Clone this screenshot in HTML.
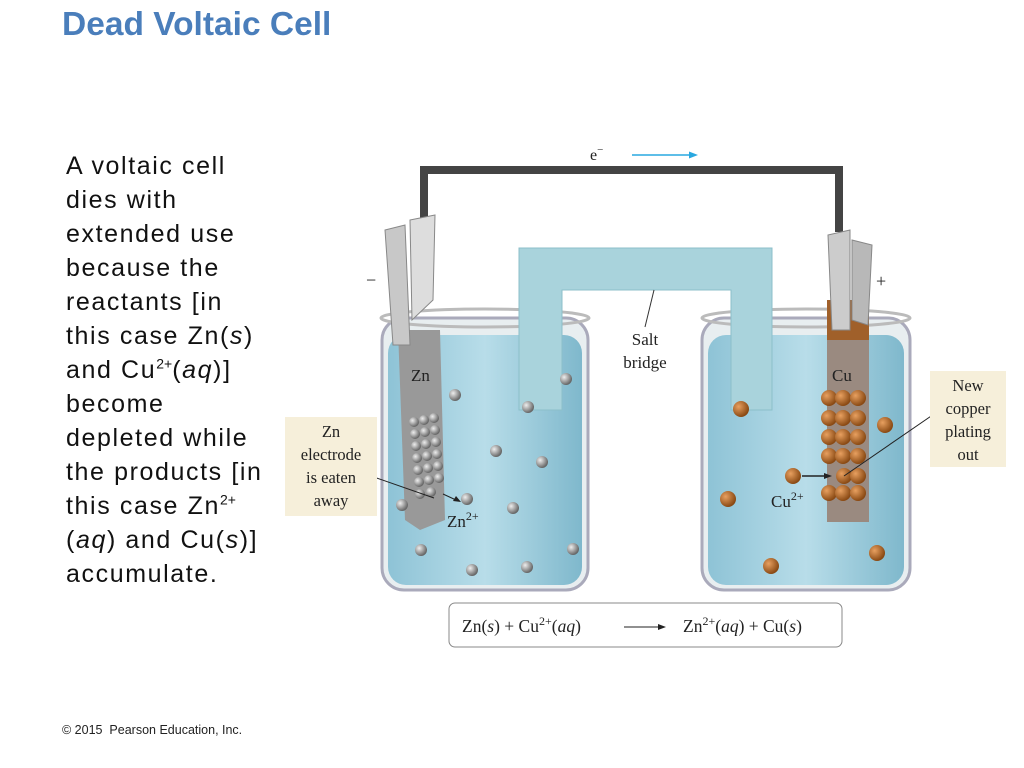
<!DOCTYPE html>
<html><head><meta charset="utf-8"><style>
body{margin:0;width:1024px;height:768px;background:#fff;overflow:hidden;position:relative;font-family:"Liberation Sans",sans-serif}
.t{position:absolute;left:62px;top:6px;font-size:33.5px;font-weight:bold;color:#4a7ebb}
.p{position:absolute;left:66px;top:149px;font-size:25px;letter-spacing:1.6px;line-height:34px;color:#111;white-space:nowrap}
.p sup{font-size:14px;line-height:0;letter-spacing:0}
.f{position:absolute;left:62px;top:723px;font-size:12.5px;color:#222}
svg{position:absolute;left:0;top:0}
.sf{font-family:"Liberation Serif",serif;fill:#222}
</style></head><body>
<div class="t">Dead Voltaic Cell</div>
<div class="p">A voltaic cell<br>dies with<br>extended use<br>because the<br>reactants [in<br>this case Zn(<i>s</i>)<br>and Cu<sup>2+</sup>(<i>aq</i>)]<br>become<br>depleted while<br>the products [in<br>this case Zn<sup>2+</sup><br>(<i>aq</i>) and Cu(<i>s</i>)]<br>accumulate.</div>
<div class="f">© 2015&nbsp; Pearson Education, Inc.</div>
<svg width="1024" height="768">
<defs>
<radialGradient id="g" cx="35%" cy="35%" r="65%"><stop offset="0" stop-color="#eee"/><stop offset="1" stop-color="#666"/></radialGradient>
<radialGradient id="c" cx="35%" cy="35%" r="65%"><stop offset="0" stop-color="#e8a060"/><stop offset="1" stop-color="#8a4a14"/></radialGradient>
<linearGradient id="w" x1="0" x2="1"><stop offset="0" stop-color="#8ec3d6"/><stop offset=".5" stop-color="#b8dde9"/><stop offset="1" stop-color="#7fb8cc"/></linearGradient>
</defs>
<path d="M424 232 V170 H839 V232" fill="none" stroke="#444" stroke-width="8"/>
<text x="590" y="160" class="sf" font-size="16">e<tspan dy="-7" font-size="11">−</tspan></text>
<line x1="632" y1="155" x2="692" y2="155" stroke="#29a8e0" stroke-width="1.5"/><path d="M698 155 l-9 -3.5 v7z" fill="#29a8e0"/>
<rect x="382" y="318" width="206" height="272" rx="22" fill="#e8eef0" stroke="#aab" stroke-width="3"/>
<rect x="388" y="335" width="194" height="250" rx="18" fill="url(#w)"/>
<ellipse cx="485" cy="318" rx="104" ry="9" fill="none" stroke="#bbb" stroke-width="3"/>
<rect x="702" y="318" width="208" height="272" rx="22" fill="#e8eef0" stroke="#aab" stroke-width="3"/>
<rect x="708" y="335" width="196" height="250" rx="18" fill="url(#w)"/>
<ellipse cx="806" cy="318" rx="104" ry="9" fill="none" stroke="#bbb" stroke-width="3"/>
<path d="M519 248 H772 V410 H731 V290 H562 V410 H519Z" fill="#a9d3dc" stroke="#8cbfca"/>
<line x1="654" y1="290" x2="645" y2="327" stroke="#333"/>
<text x="645" y="345" class="sf" font-size="17" text-anchor="middle">Salt</text>
<text x="645" y="368" class="sf" font-size="17" text-anchor="middle">bridge</text>
<path d="M398 330 L440 330 L445 520 L420 530 L405 520Z" fill="#999"/>
<rect x="827" y="300" width="42" height="222" fill="#9a8a80"/>
<rect x="827" y="300" width="42" height="40" fill="#a0602a"/>
<path d="M385 230 L405 225 L410 345 L393 345Z" fill="#c8c8c8" stroke="#888"/>
<path d="M410 220 L435 215 L433 300 L412 320Z" fill="#ddd" stroke="#888"/>
<path d="M828 235 L850 230 L850 330 L832 330Z" fill="#ccc" stroke="#888"/>
<path d="M852 240 L872 245 L868 325 L852 320Z" fill="#b8b8b8" stroke="#888"/>
<text x="366" y="286" class="sf" font-size="18">−</text>
<text x="876" y="287" class="sf" font-size="18">+</text>
<text x="411" y="381" class="sf" font-size="17">Zn</text>
<text x="832" y="381" class="sf" font-size="17">Cu</text>
<g fill="url(#g)">
<circle cx="455" cy="395" r="6"/><circle cx="566" cy="379" r="6"/><circle cx="528" cy="407" r="6"/><circle cx="496" cy="451" r="6"/><circle cx="542" cy="462" r="6"/><circle cx="467" cy="499" r="6"/><circle cx="513" cy="508" r="6"/><circle cx="402" cy="505" r="6"/><circle cx="421" cy="550" r="6"/><circle cx="573" cy="549" r="6"/><circle cx="472" cy="570" r="6"/><circle cx="527" cy="567" r="6"/>
<circle cx="414" cy="422" r="5"/><circle cx="424" cy="420" r="5"/><circle cx="434" cy="418" r="5"/>
<circle cx="415" cy="434" r="5"/><circle cx="425" cy="432" r="5"/><circle cx="435" cy="430" r="5"/>
<circle cx="416" cy="446" r="5"/><circle cx="426" cy="444" r="5"/><circle cx="436" cy="442" r="5"/>
<circle cx="417" cy="458" r="5"/><circle cx="427" cy="456" r="5"/><circle cx="437" cy="454" r="5"/>
<circle cx="418" cy="470" r="5"/><circle cx="428" cy="468" r="5"/><circle cx="438" cy="466" r="5"/>
<circle cx="419" cy="482" r="5"/><circle cx="429" cy="480" r="5"/><circle cx="439" cy="478" r="5"/>
<circle cx="420" cy="494" r="5"/><circle cx="431" cy="492" r="5"/>
</g>
<g fill="url(#c)">
<circle cx="741" cy="409" r="8"/><circle cx="885" cy="425" r="8"/><circle cx="793" cy="476" r="8"/><circle cx="728" cy="499" r="8"/><circle cx="877" cy="553" r="8"/><circle cx="771" cy="566" r="8"/>
<g id="row"><circle cx="829" cy="398" r="8"/><circle cx="843" cy="398" r="8"/><circle cx="858" cy="398" r="8"/></g>
<use href="#row" y="20"/><use href="#row" y="39"/><use href="#row" y="58"/><use href="#row" y="95"/>
<circle cx="844" cy="476" r="8"/><circle cx="858" cy="476" r="8"/>
</g>
<line x1="802" y1="476" x2="826" y2="476" stroke="#222" stroke-width="1.5"/><path d="M832 476 l-8 -3 v6z" fill="#222"/>
<line x1="844" y1="476" x2="937" y2="412" stroke="#222"/>
<text x="771" y="507" class="sf" font-size="17">Cu<tspan dy="-7" font-size="12">2+</tspan></text>
<text x="447" y="527" class="sf" font-size="17">Zn<tspan dy="-7" font-size="12">2+</tspan></text>
<line x1="368" y1="475" x2="434" y2="498" stroke="#222"/>
<line x1="443" y1="494" x2="456" y2="500" stroke="#222"/><path d="M461 502 l-8 -1 l3 -5z" fill="#222"/>
<rect x="285" y="417" width="92" height="99" fill="#f6efda"/>
<g class="sf" font-size="16.5" text-anchor="middle"><text x="331" y="437">Zn</text><text x="331" y="460">electrode</text><text x="331" y="483">is eaten</text><text x="331" y="506">away</text></g>
<rect x="930" y="371" width="76" height="96" fill="#f6efda"/>
<g class="sf" font-size="16.5" text-anchor="middle"><text x="968" y="391">New</text><text x="968" y="414">copper</text><text x="968" y="437">plating</text><text x="968" y="460">out</text></g>
<rect x="449" y="603" width="393" height="44" rx="6" fill="#fff" stroke="#888"/>
<text x="462" y="632" class="sf" font-size="17.5">Zn(<tspan font-style="italic">s</tspan>) + Cu<tspan dy="-7" font-size="12">2+</tspan><tspan dy="7">(</tspan><tspan font-style="italic">aq</tspan>)</text>
<line x1="624" y1="627" x2="660" y2="627" stroke="#222"/><path d="M666 627 l-8 -3 v6z" fill="#222"/>
<text x="683" y="632" class="sf" font-size="17.5">Zn<tspan dy="-7" font-size="12">2+</tspan><tspan dy="7">(</tspan><tspan font-style="italic">aq</tspan>) + Cu(<tspan font-style="italic">s</tspan>)</text>
</svg>
</body></html>
